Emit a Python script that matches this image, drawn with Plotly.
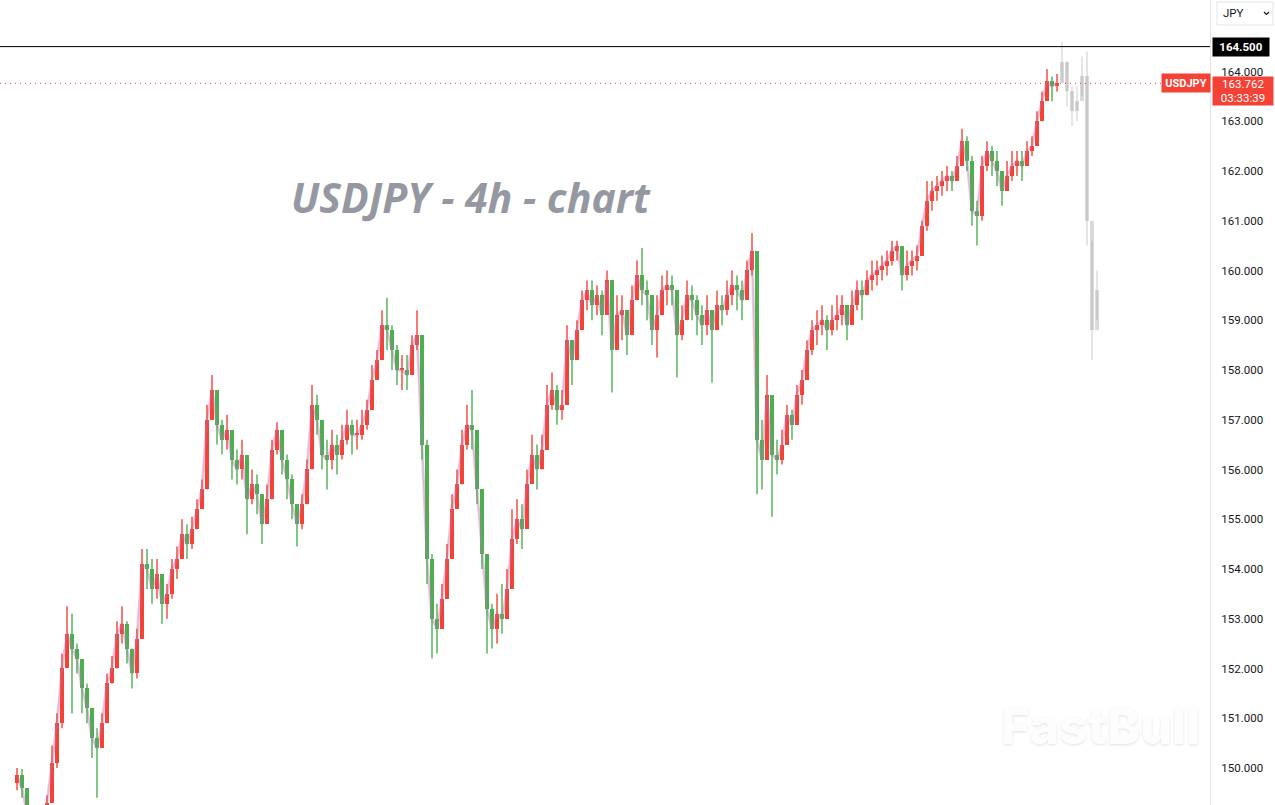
import plotly.graph_objects as go

# ---------------- data (USDJPY 4h candles) ----------------
close = [149.85, 149.60, 149.10, 148.80, 148.75, 148.95, 149.30, 150.10, 150.90, 152.00,
         152.70, 152.40, 152.20, 151.60, 151.20, 150.60, 150.40, 150.90, 151.70, 152.00,
         152.70, 152.90, 152.40, 151.90, 152.60, 154.10, 154.00, 153.60, 153.90, 153.30,
         153.50, 154.00, 154.20, 154.70, 154.50, 154.80, 155.20, 155.60, 157.00, 157.60,
         156.90, 156.60, 156.80, 156.20, 156.00, 156.30, 155.40, 155.70, 155.50, 154.90,
         155.40, 156.40, 156.80, 156.20, 155.80, 155.30, 154.90, 155.30, 156.00, 157.30,
         157.00, 156.30, 156.20, 156.50, 156.30, 156.60, 156.90, 156.70, 156.70, 156.90,
         157.20, 157.80, 158.20, 158.90, 158.80, 158.40, 158.00, 158.00, 157.90, 158.50,
         158.70, 156.50, 154.20, 153.00, 152.80, 153.40, 154.20, 155.20, 155.70, 156.50,
         156.90, 156.80, 155.60, 154.30, 153.20, 152.80, 153.10, 153.00, 153.60, 154.60,
         155.00, 154.80, 155.70, 156.30, 156.00, 156.40, 157.30, 157.60, 157.20, 157.30,
         158.60, 158.20, 158.80, 159.40, 159.60, 159.30, 159.50, 159.10, 159.80, 158.40,
         159.10, 159.20, 158.70, 159.40, 159.90, 159.60, 159.50, 158.80, 159.10, 159.60,
         159.70, 159.60, 158.70, 159.00, 159.50, 159.40, 159.10, 158.90, 159.20, 158.80,
         159.30, 159.20, 159.50, 159.70, 159.60, 159.40, 160.00, 160.40, 156.60, 156.20,
         157.50, 156.30, 156.20, 156.50, 157.10, 156.90, 157.50, 157.80, 158.40, 158.80,
         158.90, 159.00, 158.80, 159.00, 159.10, 159.30, 158.90, 159.30, 159.60, 159.50,
         159.80, 159.90, 160.00, 160.10, 160.20, 160.40, 160.50, 159.90, 160.10, 160.20,
         160.30, 160.90, 161.40, 161.60, 161.70, 161.80, 161.90, 161.80, 162.10, 162.60,
         162.20, 161.20, 161.10, 162.10, 162.40, 162.20, 162.00, 161.60, 161.90, 162.10,
         162.20, 162.10, 162.40, 162.50, 163.00, 163.40, 163.80, 163.70, 163.762]
high = [150.00, 149.98, 149.50, 149.15, 149.00, 149.20, 149.45, 150.45, 151.10, 152.30,
        153.25, 153.10, 152.50, 152.00, 151.70, 151.10, 150.80, 151.10, 151.90, 152.25,
        152.95, 153.25, 152.95, 152.40, 152.80, 154.40, 154.40, 154.20, 154.20, 153.90,
        153.70, 154.20, 154.45, 155.00, 154.90, 155.05, 155.40, 155.80, 157.30, 157.90,
        157.40, 157.00, 157.10, 156.70, 156.40, 156.60, 156.20, 156.00, 155.90, 155.40,
        155.70, 156.60, 156.95, 156.80, 156.30, 155.90, 155.30, 155.50, 156.20, 157.70,
        157.50, 157.00, 156.60, 156.80, 156.70, 156.90, 157.20, 157.00, 157.00, 157.20,
        157.40, 158.10, 158.40, 159.20, 159.45, 158.90, 158.50, 158.30, 158.30, 158.70,
        159.20, 158.70, 156.60, 154.30, 153.30, 153.70, 154.50, 155.50, 156.00, 156.80,
        157.30, 157.60, 156.80, 155.60, 154.30, 153.30, 153.50, 153.70, 154.00, 155.20,
        155.40, 155.30, 156.00, 156.70, 156.50, 156.70, 157.70, 157.95, 157.70, 157.60,
        158.90, 158.60, 159.00, 159.60, 159.80, 159.80, 159.70, 159.60, 160.00, 159.80,
        159.50, 159.50, 159.20, 159.70, 160.20, 160.45, 159.80, 159.30, 159.50, 159.90,
        160.00, 159.90, 159.60, 159.30, 159.80, 159.70, 159.50, 159.30, 159.50, 159.20,
        159.60, 159.50, 159.80, 160.00, 159.90, 159.80, 160.20, 160.75, 159.80, 157.00,
        157.90, 157.40, 156.60, 156.80, 157.30, 157.20, 157.70, 158.00, 158.60, 159.00,
        159.20, 159.30, 159.10, 159.30, 159.50, 159.50, 159.20, 159.60, 159.80, 159.80,
        160.00, 160.20, 160.20, 160.30, 160.40, 160.60, 160.60, 160.40, 160.40, 160.40,
        160.50, 161.00, 161.80, 161.80, 161.90, 162.00, 162.10, 162.00, 162.30, 162.85,
        162.70, 162.30, 161.40, 162.30, 162.60, 162.50, 162.40, 162.00, 162.20, 162.40,
        162.40, 162.40, 162.60, 162.70, 163.20, 163.60, 164.05, 163.90, 163.95]
low = [149.55, 149.40, 148.90, 148.60, 148.55, 148.70, 149.05, 149.30, 150.00, 150.80,
       152.40, 151.10, 151.90, 151.10, 150.90, 150.20, 149.40, 150.40, 150.90, 151.70,
       152.00, 152.50, 152.10, 151.60, 151.80, 152.60, 153.60, 153.30, 153.40, 152.90,
       153.00, 153.40, 153.80, 154.20, 154.20, 154.40, 154.80, 155.20, 155.60, 157.10,
       156.50, 156.30, 156.40, 155.80, 155.70, 155.80, 154.70, 155.30, 155.10, 154.50,
       155.00, 155.40, 156.30, 155.90, 155.40, 155.00, 154.45, 154.80, 155.30, 156.00,
       156.70, 156.00, 155.60, 156.00, 155.90, 156.20, 156.50, 156.30, 156.40, 156.60,
       156.80, 157.20, 157.80, 158.20, 158.40, 158.00, 157.70, 157.60, 157.60, 157.90,
       158.40, 156.20, 153.70, 152.20, 152.30, 152.80, 153.40, 154.50, 155.30, 155.70,
       156.40, 156.40, 155.30, 154.00, 152.30, 152.40, 152.50, 152.70, 153.00, 154.20,
       154.50, 154.40, 155.00, 155.80, 155.60, 156.00, 156.50, 157.20, 156.90, 157.00,
       157.80, 157.70, 158.20, 158.90, 159.20, 159.00, 159.10, 158.70, 159.30, 157.55,
       158.50, 158.60, 158.30, 158.80, 159.40, 159.30, 159.00, 158.50, 158.25, 159.10,
       159.30, 159.30, 157.85, 158.60, 159.00, 159.00, 158.70, 158.50, 158.70, 157.75,
       158.80, 158.90, 159.10, 159.30, 159.20, 159.00, 159.50, 159.90, 155.50, 155.60,
       156.40, 155.05, 155.90, 156.10, 156.50, 156.60, 156.90, 157.30, 157.80, 158.30,
       158.50, 158.70, 158.40, 158.70, 158.80, 158.90, 158.60, 159.00, 159.20, 159.00,
       159.50, 159.60, 159.70, 159.80, 159.90, 160.10, 160.20, 159.60, 159.80, 159.90,
       160.00, 160.30, 160.80, 161.20, 161.40, 161.50, 161.60, 161.60, 161.80, 162.10,
       162.00, 160.90, 160.50, 161.00, 162.00, 161.90, 161.70, 161.30, 161.60, 161.80,
       161.90, 161.80, 162.10, 162.30, 162.60, 163.00, 163.50, 163.40, 163.60]
first_open = 149.70

# projected (ghost) candles after the last real bar
ghost_close = [164.20, 163.60, 163.20, 163.40, 163.90, 161.00, 158.80, 159.60]
ghost_high = [164.60, 164.20, 163.70, 163.70, 164.30, 164.40, 160.60, 160.00]
ghost_low = [163.80, 163.30, 162.90, 163.00, 163.50, 160.50, 158.20, 159.00]

price_ticks = [150, 151, 152, 153, 154, 155, 156, 157, 158, 159, 160, 161, 162, 163, 164]
resistance = 164.5
last_price = 163.762
symbol = "USDJPY"
countdown = "03:33:39"
currency = "JPY"
title_text = "USDJPY - 4h - chart"
watermark = "FastBull"

# ---------------- build ----------------
RED = "#f44336"
GREEN = "#4caf50"
GHOST = "rgba(150,150,150,0.35)"

n = len(close)
idx = list(range(n))
opens = [first_open] + close[:-1]
g_idx = list(range(n, n + len(ghost_close)))
g_open = [close[-1]] + ghost_close[:-1]

fig = go.Figure()


def add_candles(xs, o, h, l, c, up_col, dn_col, body_w):
    for up, col in ((True, up_col), (False, dn_col)):
        sel = [i for i in range(len(xs)) if (c[i] >= o[i]) == up]
        if not sel:
            continue
        wx, wy = [], []
        for i in sel:
            wx += [xs[i], xs[i], None]
            wy += [l[i], h[i], None]
        fig.add_trace(go.Scatter(x=wx, y=wy, mode="lines", line=dict(color=col, width=1.4),
                                 hoverinfo="skip", showlegend=False))
        fig.add_trace(go.Bar(x=[xs[i] for i in sel],
                             y=[max(abs(c[i] - o[i]), 0.04) for i in sel],
                             base=[min(o[i], c[i]) for i in sel],
                             width=body_w, marker=dict(color=col, line=dict(width=0)),
                             hoverinfo="skip", showlegend=False))


# translucent close line behind candles
fig.add_trace(go.Scatter(x=idx, y=close, mode="lines",
                         line=dict(color="rgba(240,110,140,0.35)", width=3),
                         hoverinfo="skip", showlegend=False))

add_candles(idx, opens, high, low, close, RED, GREEN, 0.85)
add_candles(g_idx, g_open, ghost_high, ghost_low, ghost_close, GHOST, GHOST, 0.85)

# thin translucent close line over candles (the pink/blue overlay)
fig.add_trace(go.Scatter(x=idx, y=close, mode="lines",
                         line=dict(color="rgba(120,140,255,0.25)", width=1.5),
                         hoverinfo="skip", showlegend=False))

W, H = 1275, 805
PW = 1210  # plot width in px


def px(xp):
    return xp / PW


def py(yp):
    return 1 - yp / H


shapes = [
    dict(type="line", xref="paper", yref="y", x0=0, x1=1, y0=resistance, y1=resistance,
         line=dict(color="#000000", width=1)),
    dict(type="line", xref="paper", yref="y", x0=0, x1=1, y0=last_price, y1=last_price,
         line=dict(color=RED, width=1, dash="1px,4px")),
    dict(type="rect", xref="paper", yref="paper", x0=px(1217), x1=px(1273), y0=py(25), y1=py(2),
         line=dict(color="#e0e3eb", width=1), fillcolor="white"),
    dict(type="path", xref="paper", yref="paper",
         path=f"M {px(1264)},{py(12)} L {px(1266.5)},{py(14.5)} L {px(1269)},{py(12)}",
         line=dict(color="#131722", width=1.2)),
]

annotations = [
    dict(xref="paper", yref="paper", x=px(289), y=py(197), xanchor="left", yanchor="middle",
         text=title_text, showarrow=False,
         font=dict(family="Open Sans, sans-serif", size=41, color="#9598a1",
                   weight="bold", style="italic")),
    dict(xref="paper", yref="paper", x=px(1100), y=py(726), xanchor="center", yanchor="middle",
         text=watermark, showarrow=False,
         font=dict(family="Inter, sans-serif", size=50, color="#fdfdfd", weight=800,
                   shadow="0px 1px 3px rgba(0,0,0,0.12)")),
    dict(xref="paper", yref="y", x=1, y=resistance, xanchor="left", yanchor="middle", xshift=2,
         text=f"{resistance:.3f}", showarrow=False, bgcolor="#000000", width=52, height=14,
         borderpad=2, font=dict(family="Roboto, Arial, sans-serif", size=11.5, color="white", weight="bold")),
    dict(xref="paper", yref="y", x=1, y=last_price, xanchor="right", yanchor="middle", xshift=1,
         text=symbol, showarrow=False, bgcolor=RED, width=44, height=14, borderpad=2,
         font=dict(family="Roboto, Arial, sans-serif", size=11, color="white", weight="bold")),
    dict(xref="paper", yref="y", x=1, y=last_price, xanchor="left", yanchor="top", xshift=2, yshift=7,
         text=f"{last_price:.3f}<br>{countdown}", showarrow=False, bgcolor=RED, width=56, height=24,
         borderpad=2, align="center",
         font=dict(family="Roboto, Arial, sans-serif", size=11.5, color="white")),
    dict(xref="paper", yref="paper", x=px(1221), y=py(13), xanchor="left", yanchor="middle",
         text=currency, showarrow=False,
         font=dict(family="Roboto, Arial, sans-serif", size=11.5, color="#131722")),
]

fig.update_layout(
    width=W, height=H,
    margin=dict(l=0, r=W - PW, t=0, b=0),
    paper_bgcolor="white", plot_bgcolor="white",
    showlegend=False, barmode="overlay", bargap=0,
    xaxis=dict(range=[-17 / 5, (PW - 17) / 5], visible=False,
               showgrid=False, zeroline=False),
    yaxis=dict(side="right", range=[149.256, 165.437], tickvals=price_ticks,
               ticktext=[f"{v:.3f}" for v in price_ticks], showgrid=False, zeroline=False,
               showline=True, linecolor="#e0e3eb", linewidth=1, ticks="",
               ticklabelstandoff=8,
               tickfont=dict(family="Roboto, Arial, sans-serif", size=11.5, color="#131722")),
    shapes=shapes, annotations=annotations,
)

fig.write_html("out.html")
